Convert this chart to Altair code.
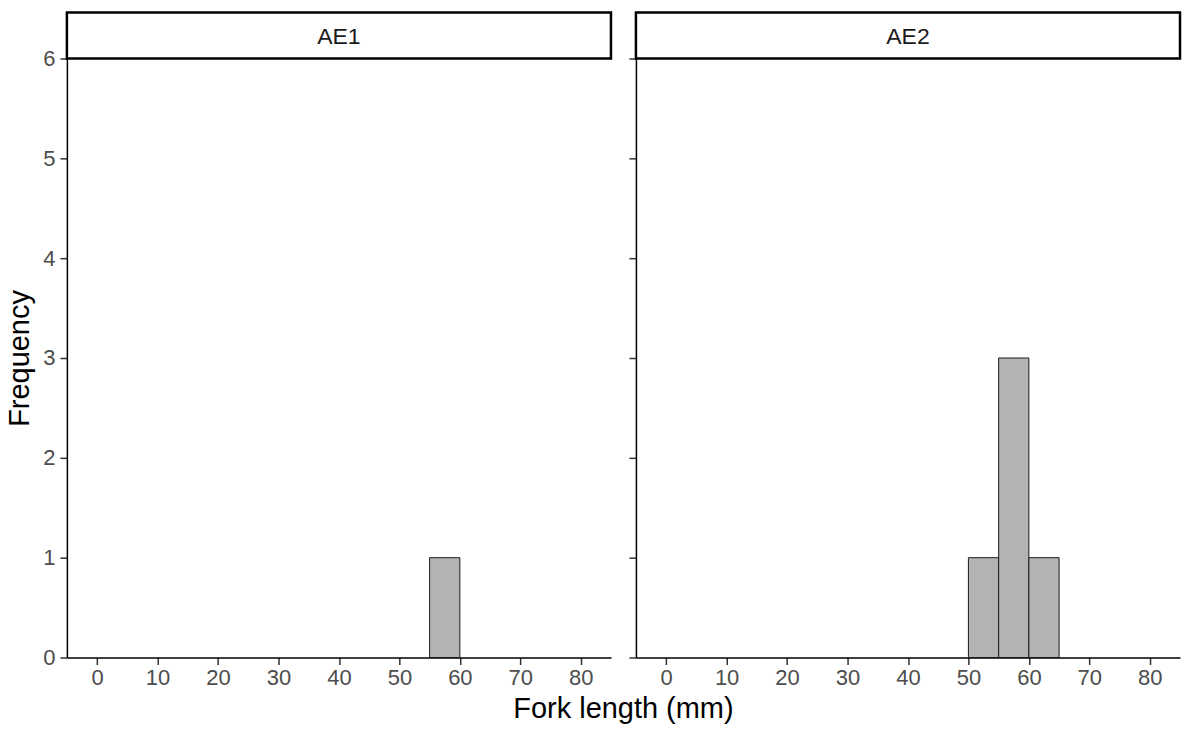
import altair as alt
import pandas as pd

# ---- data ----
panels = ["AE1", "AE2"]
bin_starts = [[55], [50, 55, 60]]
counts = [[1], [1, 3, 1]]
bin_width = 5
x_ticks = [0, 10, 20, 30, 40, 50, 60, 70, 80]
y_ticks = [0, 1, 2, 3, 4, 5, 6]
x_domain = [-5, 85]
y_domain = [0, 6]

W, H, SH = 545, 600, 46
FONT = "Liberation Sans"


def panel(i):
    df = pd.DataFrame({"start": bin_starts[i], "count": counts[i]})
    df["end"] = df["start"] + bin_width
    df["zero"] = 0
    first = i == 0
    if first:
        yaxis = alt.Axis(values=y_ticks, title="Frequency", labelPadding=5, titlePadding=8)
    else:
        yaxis = alt.Axis(values=y_ticks, title=None, labels=False)
    xaxis = alt.Axis(values=x_ticks, title=None, labelPadding=3)

    bars = alt.Chart(df).mark_rect(
        fill="#B3B3B3", stroke="#1A1A1A", strokeWidth=1
    ).encode(
        x=alt.X("start:Q", scale=alt.Scale(domain=x_domain, nice=False, zero=False), axis=xaxis),
        x2="end:Q",
        y=alt.Y("count:Q", scale=alt.Scale(domain=y_domain, nice=False), axis=yaxis),
        y2="zero:Q",
    )

    sdf = pd.DataFrame({"label": [panels[i]]})
    box = alt.Chart(sdf).mark_rect(
        fill="white", stroke="black", strokeWidth=2.5
    ).encode(
        x=alt.value(0), x2=alt.value(W), y=alt.value(-SH), y2=alt.value(0)
    )
    txt = alt.Chart(sdf).mark_text(
        font=FONT, fontSize=23, color="#1A1A1A", align="center", baseline="middle"
    ).encode(
        x=alt.value(W / 2), y=alt.value(-SH / 2 + 1), text="label:N"
    )
    return alt.layer(bars, box, txt).properties(width=W, height=H)


chart = alt.hconcat(panel(0), panel(1), spacing=15).properties(
    title=alt.TitleParams(
        text="Fork length (mm)", orient="bottom", anchor="middle",
        font=FONT, fontSize=29, fontWeight="normal", color="black", offset=7, dx=30
    ),
    padding={"left": 5, "top": 10, "right": 2, "bottom": 3},
    background="white",
).configure_view(stroke=None).configure_axis(
    grid=False,
    domainColor="black", domainWidth=1.5,
    tickColor="#333333", tickWidth=1.5, tickSize=7,
    labelColor="#4D4D4D", labelFontSize=22, labelFont=FONT,
    titleFont=FONT, titleFontSize=29, titleFontWeight="normal", titleColor="black",
)

chart.save("out.html", embed_options={"renderer": "svg", "actions": False})
